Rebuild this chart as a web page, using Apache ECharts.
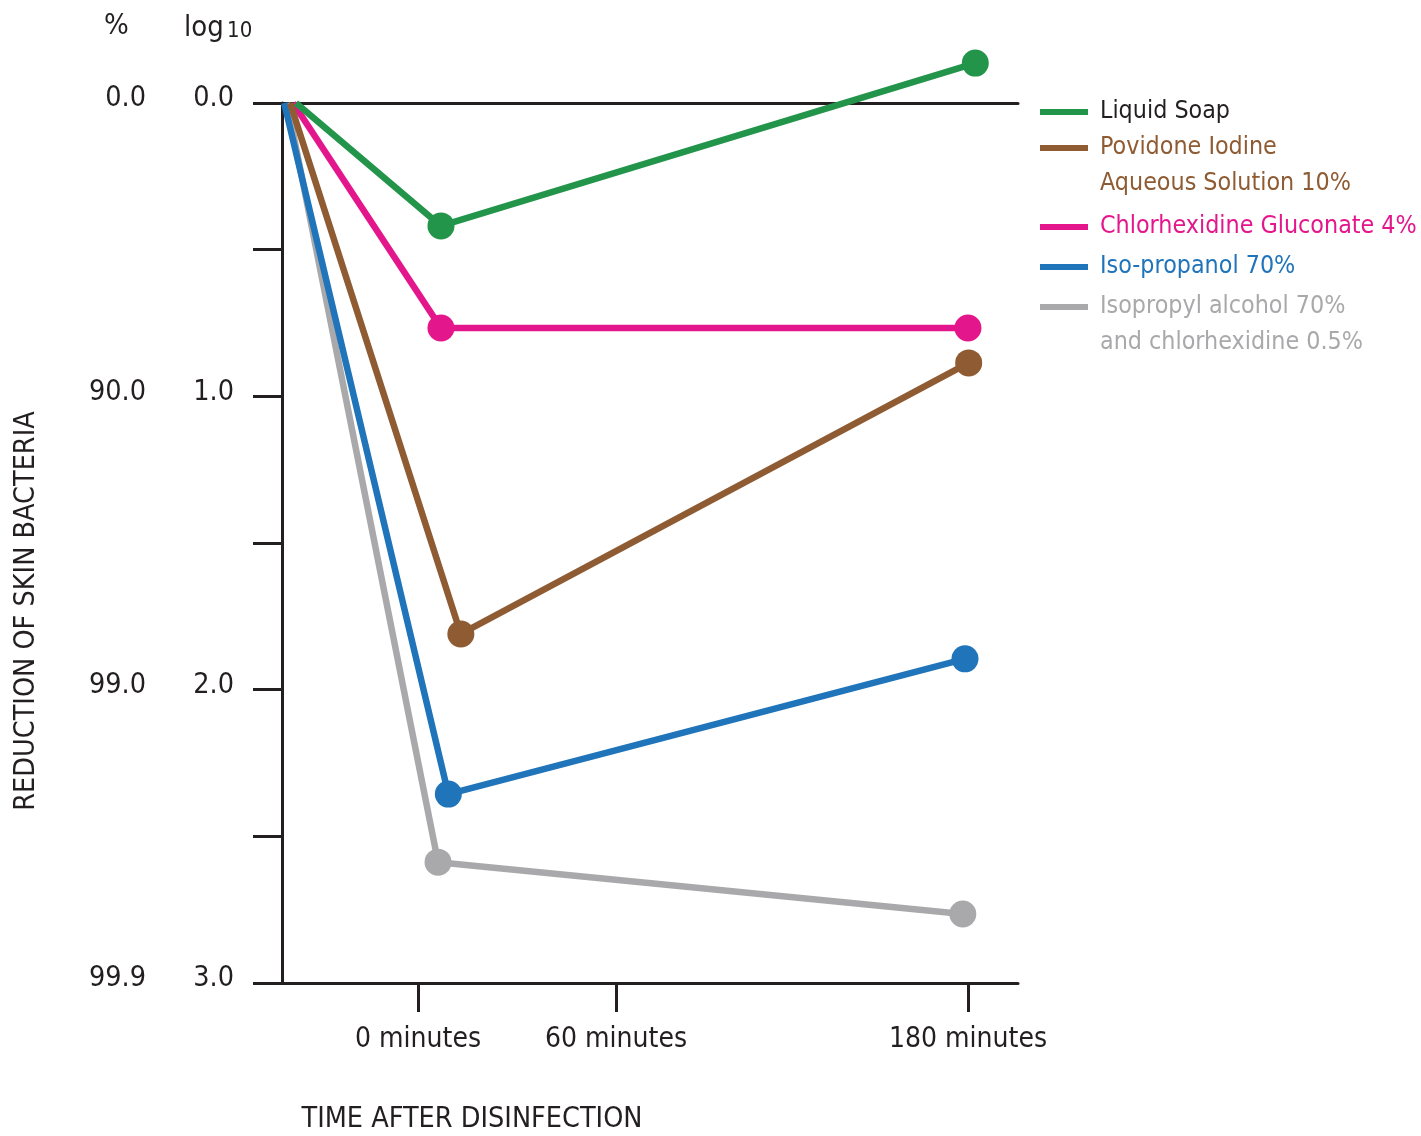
<!DOCTYPE html>
<html><head><meta charset="utf-8">
<script src="https://cdn.jsdelivr.net/npm/echarts@6/dist/echarts.min.js"></script>
<style>html,body{margin:0;padding:0;background:#fff}#c{width:1421px;height:1136px}</style>
</head><body><div id="c"></div>
<script>
// x positions are in plot units (0 = y-axis, 100 = right end of axis line)
const timeTickPos = [18.48, 45.38, 93.21];
const timeTickLabels = ['0 minutes', '60 minutes', '180 minutes'];
const logTicks = [0, 1, 2, 3];
const logLabels = ['0.0', '1.0', '2.0', '3.0'];
const pctLabels = ['0.0', '90.0', '99.0', '99.9'];

const seriesNames = [
  'Liquid Soap',
  'Povidone Iodine\nAqueous Solution 10%',
  'Chlorhexidine Gluconate 4%',
  'Iso-propanol 70%',
  'Isopropyl alcohol 70%\nand chlorhexidine 0.5%'
];
const seriesColors = ['#23954b', '#8e5b33', '#e4168c', '#1f74ba', '#a9a9ab'];
const legendTextColors = ['#231f20', '#8e5b33', '#e4168c', '#1f74ba', '#a9a9ab'];

const soapX = [1.9, 21.6, 94.2];       const soapY = [0, 0.419, -0.136];
const povidoneX = [1.1, 24.3, 93.3];   const povidoneY = [0, 1.810, 0.886];
const chlorX = [1.5, 21.6, 93.2];      const chlorY = [0, 0.767, 0.767];
const isoX = [0.3, 22.6, 92.8];        const isoY = [0, 2.356, 1.895];
const ipaX = [0.7, 21.2, 92.5];        const ipaY = [0, 2.588, 2.765];

const xs = [soapX, povidoneX, chlorX, isoX, ipaX];
const ys = [soapY, povidoneY, chlorY, isoY, ipaY];

const FONT = "'Liberation Sans Narrow', 'DejaVu Sans Condensed', 'Roboto', sans-serif";
const INK = '#231f20';

const chart = echarts.init(document.getElementById('c'));

const series = seriesNames.map((name, i) => ({
  name: name,
  type: 'line',
  data: xs[i].map((x, k) => [x, ys[i][k]]),
  clip: false,
  symbol: 'circle',
  symbolSize: (v, p) => p.dataIndex === 0 ? 0 : 27,
  lineStyle: { width: 6.5, color: seriesColors[i] },
  itemStyle: { color: seriesColors[i] },
  emphasis: { disabled: true },
  z: 10 - i
}));

const legendTops = [94, 130, 209, 249, 289];
const legends = seriesNames.map((name, i) => ({
  data: [name],
  left: 1040,
  top: legendTops[i],
  orient: 'vertical',
  padding: 0,
  icon: 'rect',
  itemWidth: 48,
  itemHeight: 6,
  selectedMode: false,
  formatter: n => n.split('\n')[0],
  textStyle: { color: legendTextColors[i], fontFamily: FONT, fontSize: 24.8, lineHeight: 36, padding: [0, 0, 0, 7] }
}));

const graphics = [
  { type: 'text', left: 104, top: 12, style: { text: '%', font: '29px ' + FONT, fill: INK } },
  { type: 'text', left: 184, top: 14, style: { text: '{a|log} {b|10}', fill: INK,
      rich: { a: { fontSize: 29, fontFamily: FONT, fill: INK }, b: { fontSize: 22, fontFamily: FONT, fill: INK, padding: [6, 0, 0, 0] } } } },
  { type: 'text', x: 27, y: 611, rotation: Math.PI / 2,
    style: { text: 'REDUCTION OF SKIN BACTERIA', font: '28.5px ' + FONT, fill: INK, align: 'center', verticalAlign: 'middle' } },
  { type: 'text', x: 472, y: 1120,
    style: { text: 'TIME AFTER DISINFECTION', font: '28.5px ' + FONT, fill: INK, align: 'center', verticalAlign: 'middle' } }
];
const secondLineY = [null, 184, null, null, 343];
seriesNames.forEach((n, i) => {
  const parts = n.split('\n');
  if (parts.length > 1) {
    graphics.push({ type: 'text', x: 1100, y: secondLineY[i],
      style: { text: parts[1], font: '24.8px ' + FONT, fill: legendTextColors[i], align: 'left', verticalAlign: 'middle' } });
  }
});

function nearestLabel(v, pos, labels) {
  let best = 0;
  pos.forEach((p, k) => { if (Math.abs(p - v) < Math.abs(pos[best] - v)) best = k; });
  return Math.abs(pos[best] - v) < 0.5 ? labels[best] : '';
}
const yRich = { v: { fontFamily: FONT, fontSize: 28.5, color: INK, padding: [0, 0, 8, 0] } };
function yFmt(labels) {
  return v => { const t = nearestLabel(v, logTicks, labels); return t ? '{v|' + t + '}' : ''; };
}

chart.setOption({
  animation: false,
  backgroundColor: '#fff',
  grid: { left: 282, right: 403, top: 103, bottom: 153 },
  xAxis: [{
    type: 'value', min: 0, max: 100, position: 'bottom',
    splitLine: { show: false },
    axisLine: { show: true, onZero: false, lineStyle: { color: INK, width: 3 } },
    axisTick: { show: true, customValues: timeTickPos, length: 29, inside: false, lineStyle: { color: INK, width: 3 } },
    axisLabel: { show: true, customValues: timeTickPos, margin: 43, fontFamily: FONT, fontSize: 28, color: INK,
      formatter: v => nearestLabel(v, timeTickPos, timeTickLabels) }
  }, {
    type: 'value', min: 0, max: 100, position: 'top',
    splitLine: { show: false },
    axisLine: { show: true, onZero: false, lineStyle: { color: INK, width: 3 } },
    axisTick: { show: false }, axisLabel: { show: false }
  }],
  yAxis: [{
    type: 'value', min: 0, max: 3, interval: 0.5, inverse: true, position: 'left',
    splitLine: { show: false },
    axisLine: { show: true, onZero: false, lineStyle: { color: INK, width: 3 } },
    axisTick: { show: true, length: 29, lineStyle: { color: INK, width: 3 } },
    axisLabel: { margin: 48, rich: yRich, formatter: yFmt(logLabels) }
  }, {
    type: 'value', min: 0, max: 3, interval: 0.5, inverse: true, position: 'left', offset: 0,
    splitLine: { show: false }, axisLine: { show: false }, axisTick: { show: false },
    axisLabel: { margin: 136, rich: yRich, formatter: yFmt(pctLabels) }
  }],
  legend: legends,
  graphic: graphics,
  series: series
});
</script></body></html>
